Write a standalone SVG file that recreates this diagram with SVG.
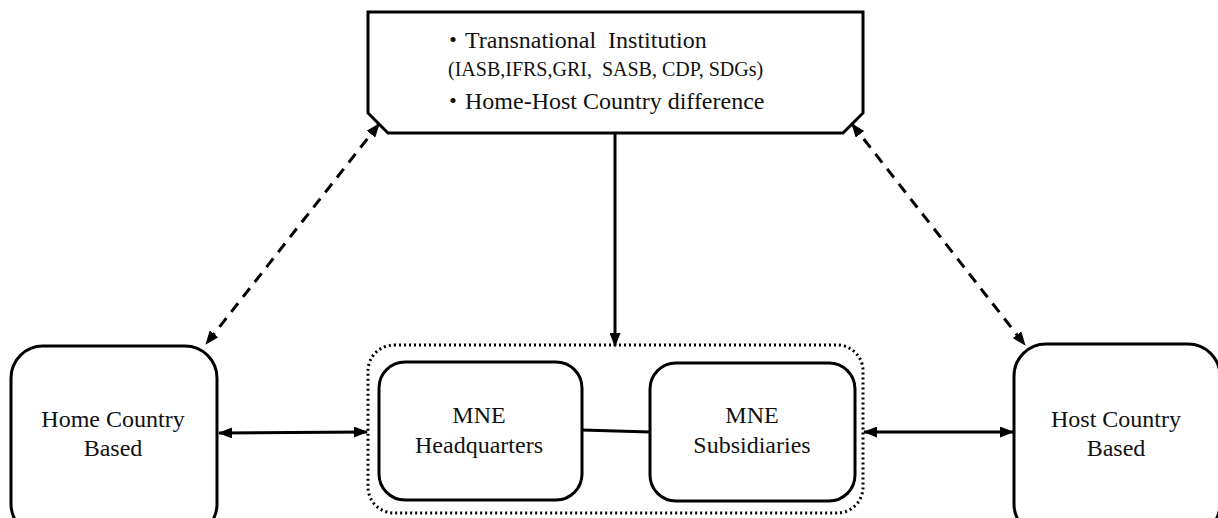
<svg xmlns="http://www.w3.org/2000/svg" width="1218" height="518" viewBox="0 0 1218 518">
  <style>
    .box { fill: #fff; stroke: #000; stroke-width: 3; }
    .group { fill: none; stroke: #000; stroke-width: 3; stroke-dasharray: 2 3; }
    .lbl { font-family: "Liberation Serif", "Noto Sans CJK JP", serif; font-size: 24px; fill: #111; text-anchor: middle; }
    .head { font-family: "Liberation Serif", "Noto Sans CJK JP", serif; fill: #111; }
    .edge { fill: none; stroke: #000; stroke-width: 3; }
    .dash { stroke-dasharray: 11 8; }
  </style>
  <defs>
    <marker id="arrow" viewBox="0 0 14 11" refX="13" refY="5.5" markerWidth="14" markerHeight="11" markerUnits="userSpaceOnUse" orient="auto-start-reverse">
      <path d="M0,0 L14,5.5 L0,11 Z" fill="#000"/>
    </marker>
  </defs>

  <rect width="1218" height="518" fill="#fff"/>

  <!-- institutional environment -->
  <g id="institutions">
    <path class="box" d="M368,12 L863,12 L863,113 L843,133 L388,133 L368,113 Z"/>
    <text class="head" xml:space="preserve" x="441" y="48" font-size="24">・Transnational  Institution</text>
    <text class="head" xml:space="preserve" x="448" y="76" font-size="20">(IASB,IFRS,GRI,  SASB, CDP, SDGs)</text>
    <text class="head" xml:space="preserve" x="441" y="109" font-size="24">・Home-Host Country difference</text>
  </g>

  <!-- MNE group boundary -->
  <g id="mne">
    <rect class="group" x="368" y="345" width="495" height="168" rx="26" ry="26"/>
  </g>

  <g id="home">
    <rect class="box" x="11" y="346" width="206" height="190" rx="32" ry="32"/>
    <text class="lbl" x="113" y="427">Home Country</text>
    <text class="lbl" x="113" y="456">Based</text>
  </g>

  <g id="hq">
    <rect class="box" x="379" y="362" width="203" height="138" rx="26" ry="26"/>
    <text class="lbl" x="479" y="423">MNE</text>
    <text class="lbl" x="479" y="453">Headquarters</text>
  </g>

  <g id="subsidiaries">
    <rect class="box" x="650" y="363" width="205" height="138" rx="26" ry="26"/>
    <text class="lbl" x="752" y="423">MNE</text>
    <text class="lbl" x="752" y="453">Subsidiaries</text>
  </g>

  <g id="host">
    <rect class="box" x="1014" y="344" width="206" height="192" rx="32" ry="32"/>
    <text class="lbl" x="1116" y="427">Host Country</text>
    <text class="lbl" x="1116" y="456">Based</text>
  </g>

  <!-- connectors -->
  <g id="connectors">
    <line class="edge" x1="615" y1="133" x2="615" y2="346" marker-end="url(#arrow)"/>
    <line class="edge dash" x1="379" y1="124" x2="206" y2="344" marker-start="url(#arrow)" marker-end="url(#arrow)"/>
    <line class="edge dash" x1="852" y1="124" x2="1025" y2="345" marker-start="url(#arrow)" marker-end="url(#arrow)"/>
    <line class="edge" x1="219" y1="433" x2="367" y2="432" marker-start="url(#arrow)" marker-end="url(#arrow)"/>
    <line class="edge" x1="864" y1="432" x2="1013" y2="432" marker-start="url(#arrow)" marker-end="url(#arrow)"/>
    <line class="edge" x1="582" y1="430" x2="650" y2="432" stroke-width="3.5"/>
  </g>
</svg>
